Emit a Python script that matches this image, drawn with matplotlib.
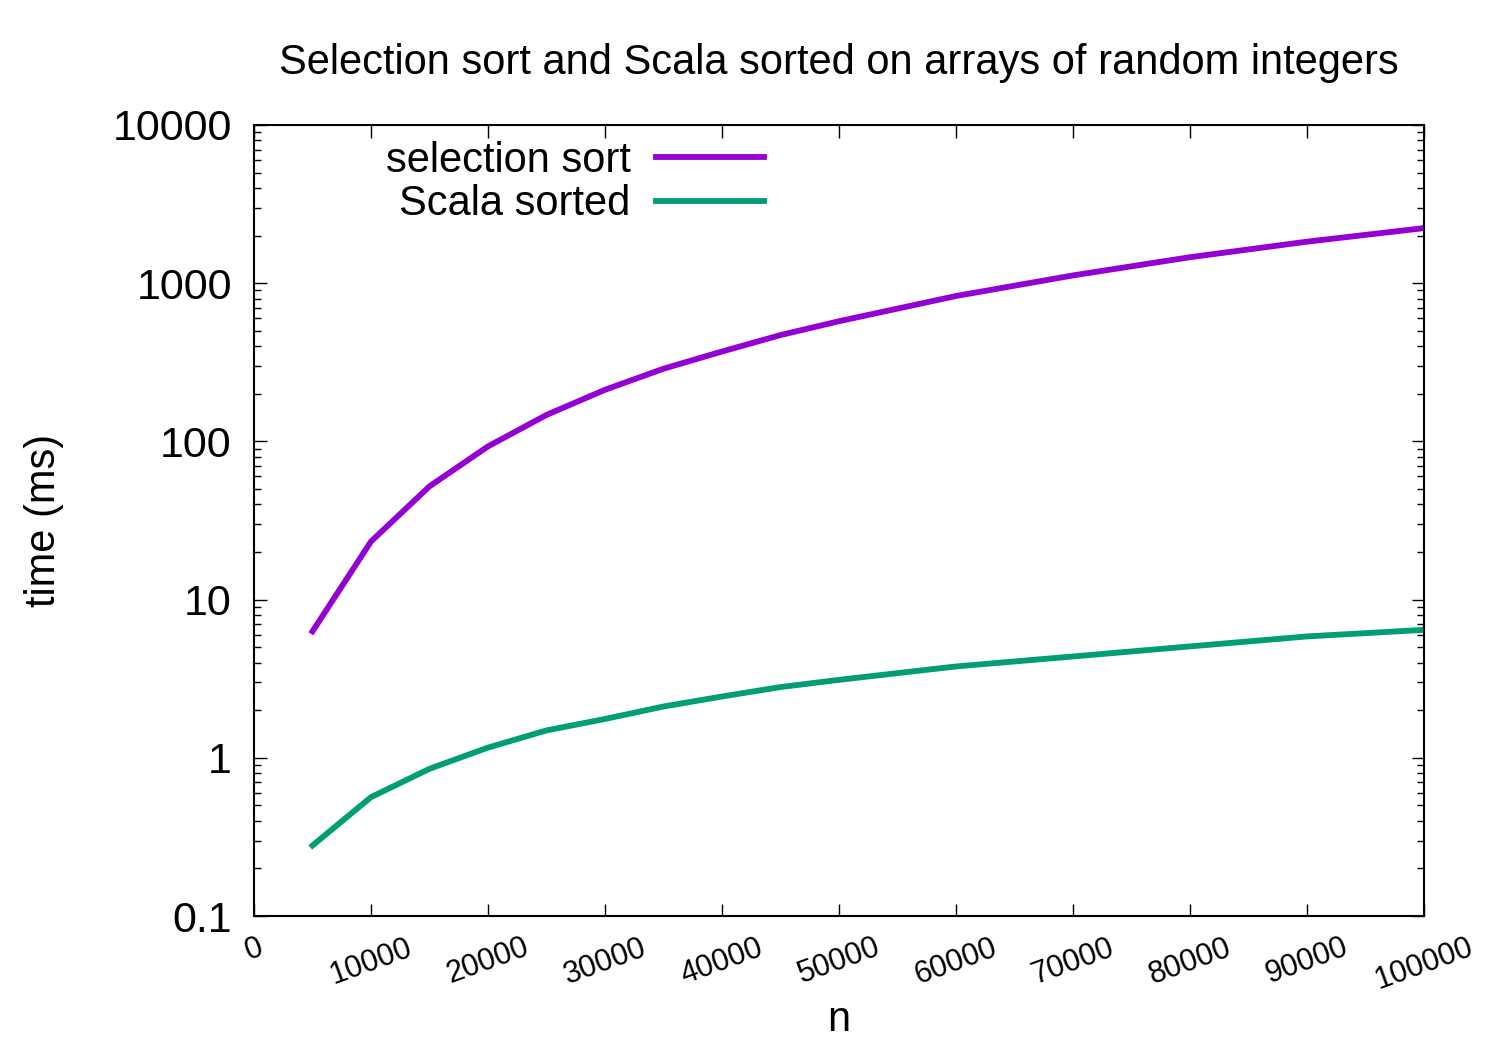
import matplotlib
matplotlib.use("Agg")
import matplotlib.pyplot as plt
from matplotlib.ticker import FixedLocator, FuncFormatter, LogLocator, NullLocator

plt.rcParams['font.family'] = ['Liberation Sans', 'DejaVu Sans']

# dane
n = [5000, 10000, 15000, 20000, 25000, 30000, 35000, 40000, 45000, 50000,
     60000, 70000, 80000, 90000, 100000]
selection_ms = [6.3, 23.3, 52, 93, 147, 212, 288, 370, 470, 575,
                830, 1120, 1460, 1830, 2230]
scala_ms = [0.279, 0.564, 0.852, 1.16, 1.49, 1.76, 2.11, 2.44, 2.8, 3.11,
            3.78, 4.37, 5.06, 5.85, 6.44]
x_ticks = list(range(0, 100001, 10000))
y_ticks = [0.1, 1, 10, 100, 1000, 10000]

purple = "#9400D3"
green = "#009E73"

fig = plt.figure(figsize=(15, 10.5), dpi=100)
ax = fig.add_axes([254 / 1500, 1 - 916 / 1050, 1170 / 1500, 791 / 1050])

ax.plot(n, selection_ms, color=purple, lw=4.2, label="selection sort")
ax.plot(n, scala_ms, color=green, lw=4.2, label="Scala sorted")

ax.set_yscale("log")
ax.set_xlim(0, 100000)
ax.set_ylim(0.1, 10000)

ax.xaxis.set_major_locator(FixedLocator(x_ticks))
ax.xaxis.set_minor_locator(NullLocator())
ax.set_xticklabels([str(t) for t in x_ticks], rotation=20, fontsize=22,
                   ha="center")
ax.yaxis.set_major_locator(FixedLocator(y_ticks))
ax.yaxis.set_minor_locator(LogLocator(base=10, subs=range(2, 10)))
ax.yaxis.set_major_formatter(FuncFormatter(lambda v, p: f"{v:g}"))
ax.tick_params(axis="y", which="major", labelsize=31, pad=16)

ax.tick_params(which="both", direction="in", top=True, right=True, width=1)
ax.tick_params(which="major", length=9)
ax.tick_params(which="minor", length=5)
ax.tick_params(axis="x", pad=12)
for s in ax.spines.values():
    s.set_linewidth(1.5)

ax.set_xlabel("n", fontsize=30, va="center")
ax.xaxis.set_label_coords(0.5, -(1020 - 916) / 791)
ax.set_ylabel("time (ms)", fontsize=30, va="center")
ax.yaxis.set_label_coords(-(254 - 44) / 1170, 0.5)

fig.text(839 / 1500, 1 - 63 / 1050, "Selection sort and Scala sorted on arrays of random integers",
         ha="center", va="center", fontsize=30)

ax.legend(loc="upper right", bbox_to_anchor=(764 / 1500, 1 - 141 / 1050),
          bbox_transform=fig.transFigure, frameon=False, markerfirst=False,
          fontsize=30, handlelength=2.6, handletextpad=0.6, labelspacing=0.08,
          borderpad=0, borderaxespad=0)

fig.savefig("out.png", dpi=100)
